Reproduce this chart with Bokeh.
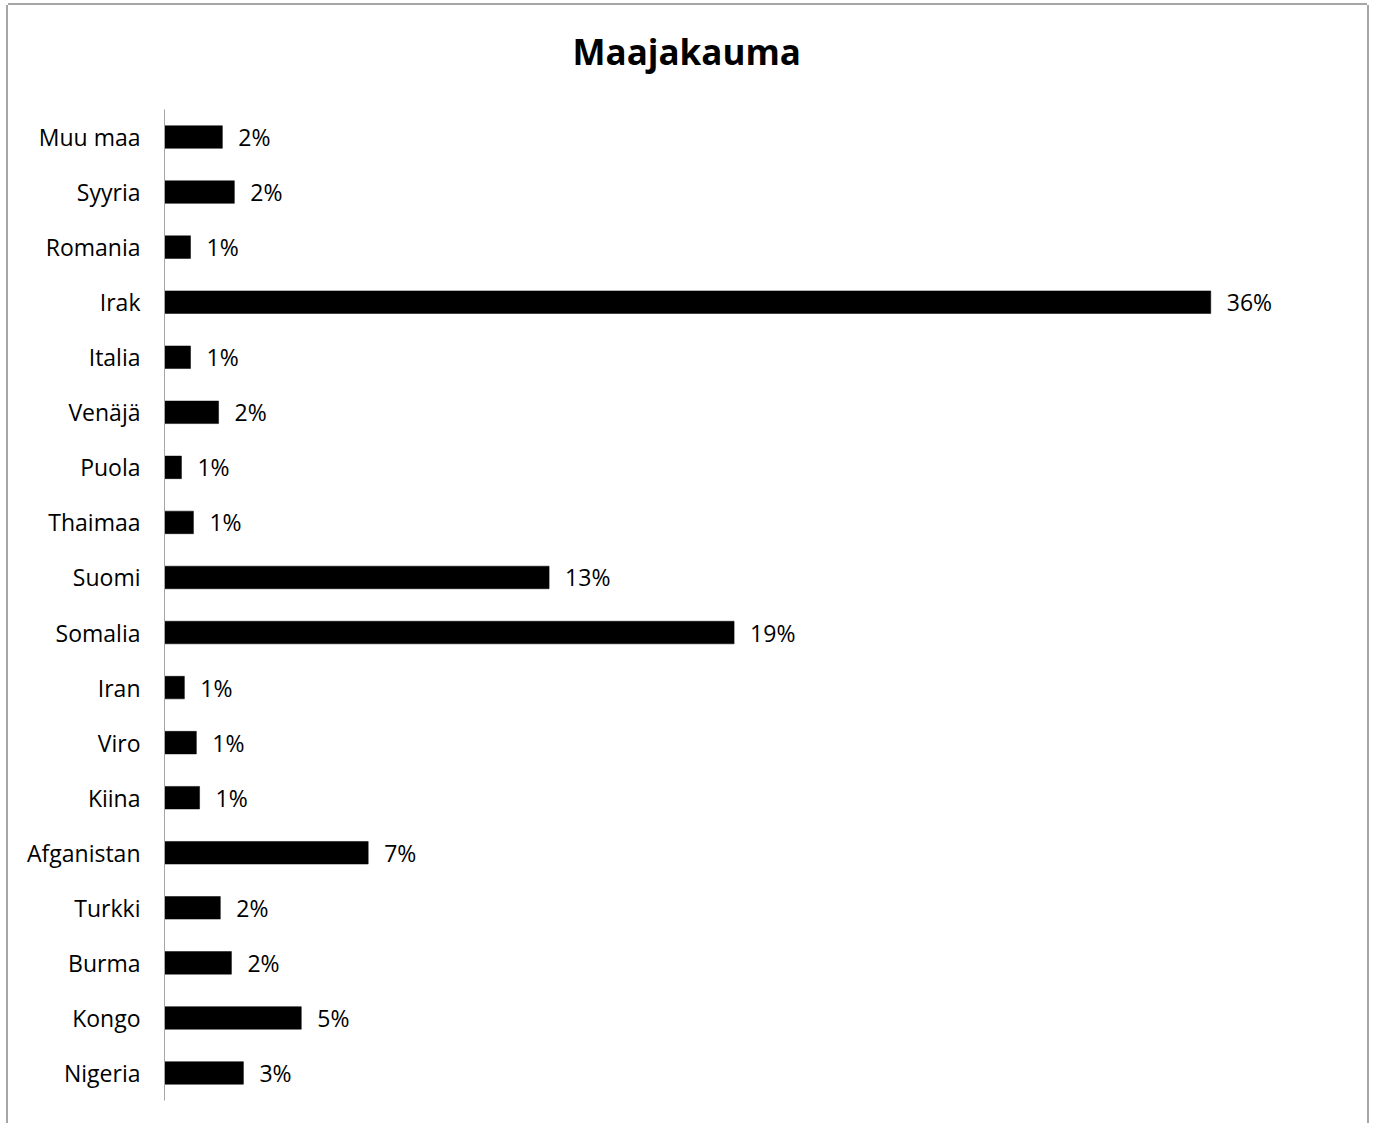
from bokeh.plotting import figure
from bokeh.models import ColumnDataSource, FactorRange, Range1d, LabelSet, Title
from bokeh.core.properties import value
from bokeh.embed import file_html
from bokeh.resources import INLINE

# Data (top to bottom as shown in the chart)
countries = ["Muu maa", "Syyria", "Romania", "Irak", "Italia", "Venäjä", "Puola",
             "Thaimaa", "Suomi", "Somalia", "Iran", "Viro", "Kiina", "Afganistan",
             "Turkki", "Burma", "Kongo", "Nigeria"]
shares = [1.98, 2.39, 0.89, 35.8, 0.89, 1.85, 0.58, 0.99, 13.16, 19.49, 0.68,
          1.09, 1.20, 6.97, 1.91, 2.29, 4.68, 2.70]
share_labels = ["2%", "2%", "1%", "36%", "1%", "2%", "1%", "1%", "13%", "19%", "1%",
                "1%", "1%", "7%", "2%", "2%", "5%", "3%"]
x_max = 40
title_text = "Maajakauma"

FONT = "Open Sans"

src = ColumnDataSource(dict(country=countries, share=shares, label=share_labels))

p = figure(width=1359, height=1118,
           y_range=FactorRange(*reversed(countries)),
           x_range=Range1d(0, x_max),
           x_axis_location=None,
           output_backend="svg", toolbar_location=None,
           min_border_left=156, min_border_right=34,
           min_border_top=104, min_border_bottom=23)
p.margin = (5, 0, 0, 8)

p.hbar(y="country", left=0, right="share", height=0.41, source=src,
       fill_color="black", line_color="black", line_width=0.5)

labels = LabelSet(x="share", y="country", text="label", source=src,
                  x_offset=16, text_baseline="middle", text_align="left",
                  text_font=value(FONT), text_font_size="23px", text_color="black")
p.add_layout(labels)

p.yaxis.major_label_text_font = FONT
p.yaxis.major_label_text_font_size = "23px"
p.yaxis.major_label_text_color = "black"
p.yaxis.major_label_standoff = 24
p.yaxis.major_tick_in = 0
p.yaxis.major_tick_out = 0
p.yaxis.minor_tick_line_color = None
p.yaxis.axis_line_color = "#a6a6a6"
p.yaxis.axis_line_width = 1

p.grid.visible = False
p.outline_line_color = None

# blank spacer between the frame and the title
spacer = Title(text=".", text_font_size="10px", text_color="white", standoff=25)
p.add_layout(spacer, "above")
main_title = Title(text=title_text, text_font=FONT, text_font_style="bold",
                   text_font_size="35px", text_color="black", align="left",
                   offset=408, standoff=0, vertical_align="bottom")
p.add_layout(main_title, "above")

p.styles = {"box-shadow": "-2px 0 0 0 #a6a6a6, 2px 0 0 0 #a6a6a6, 0 -2px 0 0 #a6a6a6"}

open("out.html", "w").write(file_html(p, INLINE))
